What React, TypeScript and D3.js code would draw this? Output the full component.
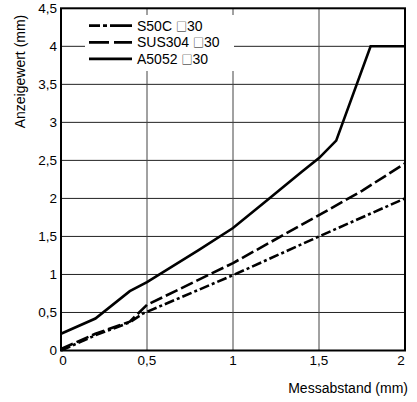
import React from "react";
import * as d3 from "d3";

const xTicks = [0, 0.5, 1, 1.5, 2];
const yTicks = [0, 0.5, 1, 1.5, 2, 2.5, 3, 3.5, 4, 4.5];
const fmt = (v: number) => String(v).replace(".", ",");

const s50cX = [0, 0.2, 0.4, 0.48, 1.0, 1.5, 2.0];
const s50cY = [0, 0.2, 0.37, 0.49, 0.99, 1.5, 2.0];
const sus304X = [0, 0.2, 0.4, 0.5, 1.0, 1.5, 1.75, 2.0];
const sus304Y = [0.02, 0.22, 0.38, 0.6, 1.15, 1.78, 2.1, 2.46];
const a5052X = [0, 0.2, 0.4, 0.5, 0.8, 1.0, 1.2, 1.4, 1.5, 1.6, 1.8, 2.0];
const a5052Y = [0.22, 0.42, 0.78, 0.9, 1.32, 1.61, 1.98, 2.35, 2.53, 2.76, 4.0, 4.0];

const seriesLabels = ["S50C", "SUS304", "A5052"];
const sizeLabel = "30";

const FONT = "'Liberation Sans', Arial, Helvetica, sans-serif";

export default function App() {
  const W = 417, H = 402;
  const x = d3.scaleLinear().domain([0, 2]).range([61, 405]);
  const y = d3.scaleLinear().domain([0, 4.5]).range([350.5, 8.3]);
  const line = d3.line<[number, number]>().x(d => x(d[0])).y(d => y(d[1]));
  const zip = (a: number[], b: number[]) => a.map((v, i) => [v, b[i]] as [number, number]);

  const series = [
    { name: seriesLabels[0], d: zip(s50cX, s50cY), dash: "10,3,3,3", legDash: "11,3,4,3,22" },
    { name: seriesLabels[1], d: zip(sus304X, sus304Y), dash: "13,4", legDash: "20,5" },
    { name: seriesLabels[2], d: zip(a5052X, a5052Y), dash: "none", legDash: "none" },
  ];

  return (
    <svg width={W} height={H} style={{ position: "absolute", left: 0, top: 0, background: "#fff" }} fontFamily={FONT}>
      <rect x={0} y={0} width={W} height={H} fill="#fff" />
      {yTicks.filter(t => t > 0 && t < 4.5).map(t => (
        <line key={"gy" + t} x1={x(0)} x2={x(2)} y1={y(t)} y2={y(t)} stroke="#222" strokeWidth={1} />
      ))}
      {xTicks.filter(t => t > 0 && t < 2).map(t => (
        <line key={"gx" + t} x1={x(t)} x2={x(t)} y1={y(0)} y2={y(4.5)} stroke="#444" strokeWidth={1} />
      ))}
      <rect x={85} y={15} width={149} height={56} fill="#fff" />
      <rect x={x(0)} y={y(4.5)} width={x(2) - x(0)} height={y(0) - y(4.5)} fill="none" stroke="#000" strokeWidth={2} />
      {series.map(s => (
        <path key={s.name} d={line(s.d) || ""} fill="none" stroke="#000" strokeWidth={2.6}
          strokeDasharray={s.dash} strokeLinejoin="miter" />
      ))}
      {series.map((s, i) => {
        const ly = 25.7 + i * 16.6;
        return (
          <g key={"leg" + i}>
            <line x1={89} x2={132} y1={ly} y2={ly} stroke="#000" strokeWidth={2.8} strokeDasharray={s.legDash} />
            <text x={137} y={ly} dy="0.36em" fontSize={14} fill="#000">
              {s.name + " "}
              <tspan fontFamily="'Noto Sans CJK JP'" fontSize={11} fontWeight={300}>{"\u25A1"}</tspan>
              <tspan>{sizeLabel}</tspan>
            </text>
          </g>
        );
      })}
      {yTicks.map(t => (
        <text key={"yt" + t} x={57} y={y(t)} dy="0.35em" textAnchor="end" fontSize={13.5} fill="#000">{fmt(t)}</text>
      ))}
      {xTicks.map((t, i) => (
        <text key={"xt" + t} x={x(t) + (i === 0 ? 2 : i === xTicks.length - 1 ? -4 : 0)} y={365} textAnchor="middle" fontSize={13.5} fill="#000">{fmt(t)}</text>
      ))}
      <text transform={`translate(25,71.5) rotate(-90)`} textAnchor="middle" fontSize={14} fill="#000">Anzeigewert (mm)</text>
      <text x={408} y={393} textAnchor="end" fontSize={14} fill="#000">Messabstand (mm)</text>
    </svg>
  );
}
